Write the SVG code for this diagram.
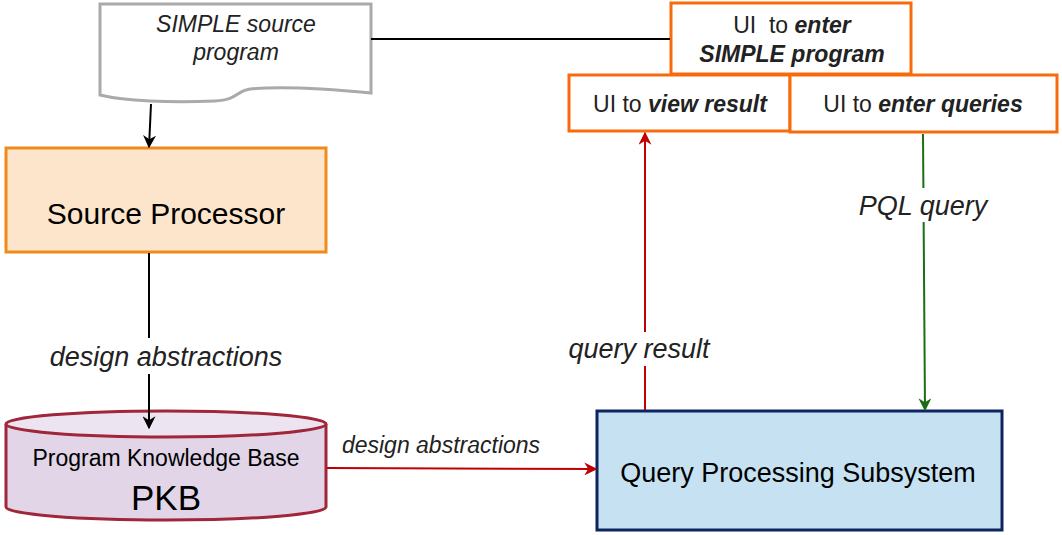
<svg xmlns="http://www.w3.org/2000/svg" width="1062" height="535" viewBox="0 0 1062 535">
<defs>
<style>
text{font-family:"Liberation Sans",Arial,sans-serif;text-anchor:middle}
.lbl{font-style:italic;fill:#222}
.ui{fill:#fff;stroke:#f76b0c;stroke-width:3}
.bi{font-weight:bold;font-style:italic}
</style>
<marker id="ab" viewBox="0 0 10 10" refX="9" refY="5" markerWidth="13" markerHeight="13" markerUnits="userSpaceOnUse" orient="auto"><path d="M0,0 L10,5 L0,10 L3,5 Z" fill="#000"/></marker>
<marker id="ar" viewBox="0 0 10 10" refX="9" refY="5" markerWidth="13" markerHeight="13" markerUnits="userSpaceOnUse" orient="auto"><path d="M0,0 L10,5 L0,10 L3,5 Z" fill="#c00000"/></marker>
<marker id="ag" viewBox="0 0 10 10" refX="9" refY="5" markerWidth="13" markerHeight="13" markerUnits="userSpaceOnUse" orient="auto"><path d="M0,0 L10,5 L0,10 L3,5 Z" fill="#1a6e14"/></marker>
</defs>
<rect width="1062" height="535" fill="#fff"/>
<g id="doc">
<path d="M100,4 L371,4 L371,93 C330,89 280,86 250,89 C236,91 238,100 215,101 C170,103 125,101 100,95 Z" fill="#fff" stroke="#aaa" stroke-width="3"/>
<text x="236" y="32" class="lbl" font-size="23">SIMPLE source</text>
<text x="236" y="60" class="lbl" font-size="23">program</text>
</g>
<g id="source-processor">
<rect x="6" y="148" width="320" height="104" fill="#fde5cc" stroke="#f08a1c" stroke-width="3"/>
<text x="166" y="224" font-size="30">Source Processor</text>
</g>
<g id="pkb">
<path d="M6,424 L6,507 A160,13 0 0 0 326,507 L326,424" fill="#e1d5e7" stroke="#a0263a" stroke-width="3"/>
<ellipse cx="166" cy="424" rx="160" ry="13" fill="#ece4f0" stroke="#a0263a" stroke-width="3"/>
<text x="166" y="466" font-size="23">Program Knowledge Base</text>
<text x="166" y="510" font-size="35">PKB</text>
</g>
<g id="qps">
<rect x="597" y="411" width="405" height="119" fill="#c5e1f2" stroke="#0d2461" stroke-width="3"/>
<text x="798" y="482" font-size="27">Query Processing Subsystem</text>
</g>
<g id="ui-enter-program">
<rect x="671" y="3" width="240" height="71" class="ui"/>
<text x="792" y="33" font-size="23" fill="#222">UI&#160; to <tspan class="bi">enter</tspan></text>
<text x="792" y="62" font-size="23" fill="#222" class="bi">SIMPLE program</text>
</g>
<g id="ui-view-result">
<rect x="569" y="75" width="221" height="56" class="ui"/>
<text x="680" y="112" font-size="23" fill="#222">UI to <tspan class="bi">view result</tspan></text>
</g>
<g id="ui-enter-queries">
<rect x="790" y="75" width="267" height="57" class="ui"/>
<text x="923" y="112" font-size="23" fill="#222">UI to <tspan class="bi">enter queries</tspan></text>
</g>
<g id="connectors" fill="none" stroke-width="2">
<line x1="371" y1="39" x2="670" y2="39" stroke="#000"/>
<line x1="151" y1="104" x2="149" y2="147" stroke="#000" marker-end="url(#ab)"/>
<line x1="149" y1="253" x2="149" y2="428" stroke="#000" marker-end="url(#ab)"/>
<line x1="327" y1="468" x2="596" y2="469" stroke="#c00000" marker-end="url(#ar)"/>
<line x1="645" y1="410" x2="645" y2="133" stroke="#c00000" marker-end="url(#ar)"/>
<line x1="923" y1="134" x2="925" y2="410" stroke="#1a6e14" marker-end="url(#ag)"/>
</g>
<g id="labels">
<rect x="44" y="338" width="244" height="36" fill="#fff"/>
<text x="166" y="366" class="lbl" font-size="27">design abstractions</text>
<text x="441" y="453" class="lbl" font-size="23">design abstractions</text>
<rect x="564" y="332" width="152" height="34" fill="#fff"/>
<text x="639" y="358" class="lbl" font-size="27">query result</text>
<rect x="854" y="188" width="138" height="34" fill="#fff"/>
<text x="923" y="215" class="lbl" font-size="27">PQL query</text>
</g>
</svg>
